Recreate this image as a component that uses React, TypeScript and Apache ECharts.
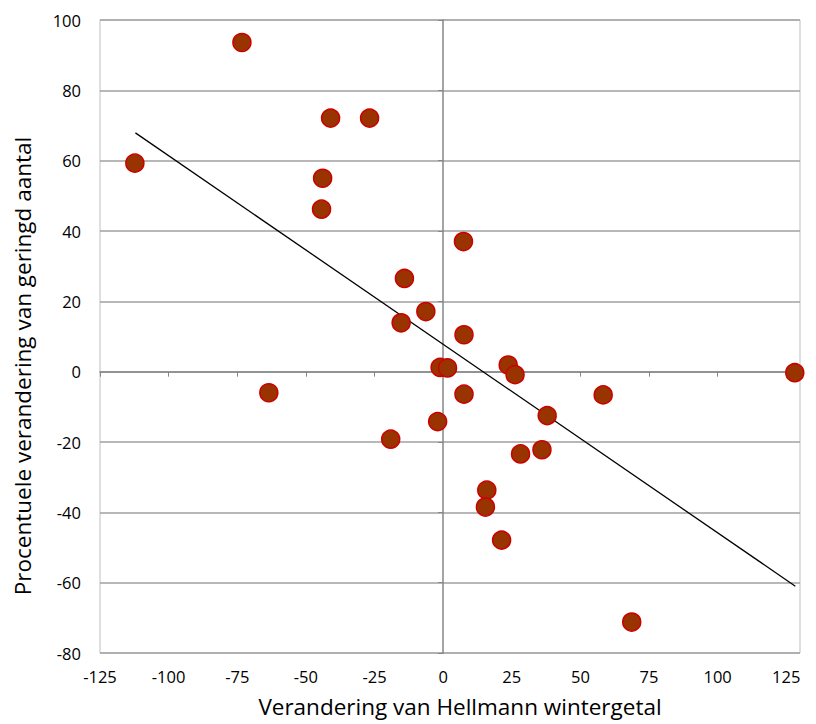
import React, { useEffect, useRef } from "react";
import * as echarts from "echarts";

const winterChange = [
  -112.3, -73.3, -41.0, -26.8, -43.9, -44.3, -63.5, 7.4, -14.1, -6.3, -15.3, 7.6, -1.1, 1.6,
  23.7, 26.2, 7.6, 37.9, -2.0, -19.1, 28.2, 36.0, 15.9, 15.4, 21.3, 68.7, 58.3, 128.1,
];
const ringedChange = [
  59.3, 93.6, 72.1, 72.1, 55.0, 46.2, -6.0, 37.0, 26.5, 17.1, 13.9, 10.5, 1.2, 1.05,
  1.9, -0.85, -6.4, -12.5, -14.2, -19.2, -23.4, -22.2, -33.7, -38.5, -47.9, -71.2, -6.6, -0.3,
];
const trendX = [-112.1, 128.3];
const trendY = [67.9, -61.0];
const xTicks = [-125, -100, -75, -50, -25, 0, 25, 50, 75, 100, 125];
const yTicks = [-80, -60, -40, -20, 0, 20, 40, 60, 80, 100];
const xTitle = "Verandering van Hellmann wintergetal";
const yTitle = "Procentuele verandering van geringd aantal";

const FONT = "Open Sans";

export default function App() {
  const ref = useRef<HTMLDivElement>(null);
  useEffect(() => {
    if (!ref.current) return;
    const chart = echarts.init(ref.current, undefined, { renderer: "svg" });
    const points = winterChange.map((x, i) => [x, ringedChange[i]]);
    const trend = trendX.map((x, i) => [x, trendY[i]]);
    chart.setOption({
      animation: false,
      backgroundColor: "#ffffff",
      grid: {
        left: 100,
        top: 20,
        right: 16,
        bottom: 71,
        show: true,
        borderColor: "#bfbfbf",
        borderWidth: 1,
      },
      xAxis: [
        {
          type: "value",
          position: "bottom",
          min: -125,
          max: 130,
          interval: 25,
          axisLine: { show: false },
          axisTick: { show: false },
          splitLine: { show: false },
          axisLabel: {
            customValues: xTicks,
            color: "#000",
            fontFamily: FONT,
            fontSize: 16.5,
            margin: 15,
          },
        },
        {
          type: "value",
          position: "bottom",
          min: -125,
          max: 130,
          interval: 25,
          axisLine: { show: true, onZero: true, lineStyle: { color: "#868686", width: 1.5 } },
          axisTick: { show: true, length: 5, customValues: xTicks, lineStyle: { color: "#868686" } },
          axisLabel: { show: false },
          splitLine: { show: false },
        },
      ],
      yAxis: [
        {
          type: "value",
          position: "left",
          min: -80,
          max: 100,
          interval: 20,
          axisLine: { show: false },
          axisTick: { show: false },
          splitLine: { show: true, lineStyle: { color: "#a0a0a0", width: 1.5 } },
          axisLabel: {
            customValues: yTicks,
            color: "#000",
            fontFamily: FONT,
            fontSize: 16.5,
            margin: 19,
          },
        },
        {
          type: "value",
          position: "left",
          min: -80,
          max: 100,
          interval: 20,
          axisLine: { show: true, onZero: true, lineStyle: { color: "#868686", width: 1.5 } },
          axisTick: { show: true, length: 5, customValues: yTicks, lineStyle: { color: "#868686" } },
          axisLabel: { show: false },
          splitLine: { show: false },
        },
      ],
      graphic: [
        {
          type: "text",
          x: 460,
          y: 706,
          style: {
            text: xTitle,
            fontFamily: FONT,
            fontSize: 22.5,
            fill: "#000",
            textAlign: "center",
            textVerticalAlign: "middle",
          },
        },
        {
          type: "text",
          x: 22,
          y: 366,
          rotation: Math.PI / 2,
          style: {
            text: yTitle,
            fontFamily: FONT,
            fontSize: 22.5,
            fill: "#000",
            textAlign: "center",
            textVerticalAlign: "middle",
          },
        },
      ],
      series: [
        {
          type: "line",
          xAxisIndex: 0,
          yAxisIndex: 0,
          data: trend,
          symbol: "none",
          lineStyle: { color: "#000", width: 1.3 },
          z: 3,
        },
        {
          type: "scatter",
          xAxisIndex: 0,
          yAxisIndex: 0,
          data: points,
          symbol: "circle",
          symbolSize: 18,
          itemStyle: { color: "#993300", borderColor: "#cc0000", borderWidth: 1.5, opacity: 1 },
          z: 4,
        },
      ],
    });
    return () => chart.dispose();
  }, []);
  return <div ref={ref} style={{ width: 816, height: 724, marginLeft: -8, marginTop: -8 }} />;
}
